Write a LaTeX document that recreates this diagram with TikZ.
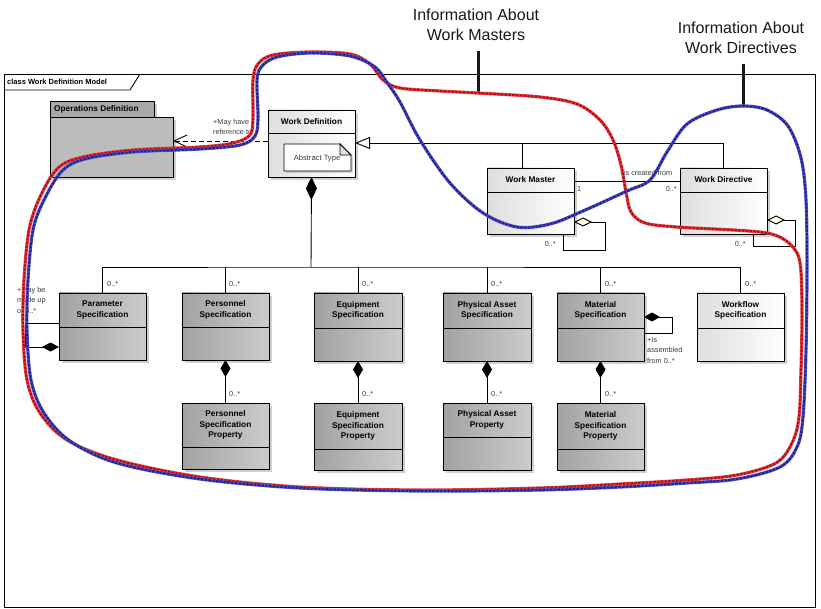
\documentclass[tikz,border=0pt]{standalone}
\usepackage{fontspec}
\setmainfont{Liberation Sans}
\usetikzlibrary{arrows.meta,shadows,calc}
\definecolor{gA}{RGB}{162,162,162}
\definecolor{gB}{RGB}{204,204,204}
\definecolor{wA}{RGB}{222,222,222}
\definecolor{tabgray}{RGB}{168,168,168}
\definecolor{txtgray}{RGB}{60,60,60}
\definecolor{cream}{RGB}{255,250,235}
\definecolor{redA}{RGB}{228,70,70}
\definecolor{redB}{RGB}{185,10,20}
\definecolor{bluA}{RGB}{80,80,200}
\definecolor{bluB}{RGB}{35,35,140}
\definecolor{titlecol}{RGB}{25,25,25}
\tikzset{
  umlbase/.style={draw=black, line width=0.9pt, inner sep=0pt, outer sep=0pt, anchor=north west},
  graycls/.style={umlbase, left color=gA, right color=gB,
     drop shadow={shadow xshift=3pt, shadow yshift=-3pt, fill=black!30, opacity=0.6}},
  whitecls/.style={umlbase, left color=wA, right color=white,
     drop shadow={shadow xshift=3pt, shadow yshift=-3pt, fill=black!30, opacity=0.6}},
  ttl/.style={font=\fontsize{8.3}{10.6}\selectfont\bfseries, align=center, text=black, inner sep=0pt},
  lbl/.style={font=\fontsize{7.3}{10.5}\selectfont, text=txtgray, inner sep=0pt, align=left},
  conn/.style={line width=0.9pt, draw=black},
  redcurve/.style={line width=3.2pt, redA, line join=round,
     postaction={draw, redB, line width=2pt, dash pattern=on 2.6pt off 1.2pt}},
  bluecurve/.style={line width=3.2pt, bluA, line join=round,
     postaction={draw, bluB, line width=2pt, dash pattern=on 2.6pt off 1.2pt}},
}
\newcommand\clsbox[8]{%
  \node[#7, minimum width={(#4-#2)*1pt}, minimum height={(#5-#3)*1pt}] (#1) at (#2,#3) {};
  \draw[line width=0.9pt] (#1.west |- 0,#6) -- (#1.east |- 0,#6);
  \node[ttl] (#1-t) at ({(#2+#4)/2},{(#3+#6)/2}) {#8};
}
\begin{document}
\begin{tikzpicture}[x=1pt,y=-1pt]
\useasboundingbox[fill=white] (0,0) rectangle (821,609);

% frame
\node[draw=black, line width=0.9pt, inner sep=0pt, outer sep=0pt, anchor=north west,
      minimum width=811pt, minimum height=533pt] (frame) at (4,74) {};
\draw[line width=0.9pt] (4,90) -- (130,90) -- (140,74);
\node[font=\fontsize{7.5}{9}\selectfont\bfseries, anchor=west, inner sep=0pt] (frame-t) at (7,82) {class Work Definition Model};

% Operations Definition package
\node[umlbase, fill=tabgray, minimum width=104pt, minimum height=16pt,
      drop shadow={shadow xshift=3pt, shadow yshift=-3pt, fill=black!30, opacity=0.6}] (opsTab) at (50,101) {};
\node[umlbase, fill=gB!92!black, minimum width=123pt, minimum height=60pt,
      drop shadow={shadow xshift=3pt, shadow yshift=-3pt, fill=black!30, opacity=0.6}] (ops) at (50,117) {};
\node[ttl, anchor=west] (ops-t) at (54,109) {Operations Definition};

% Work Definition
\clsbox{wdef}{268}{110}{355}{177}{133}{whitecls}{Work Definition}
\draw[line width=0.8pt, fill=white, drop shadow={shadow xshift=2pt, shadow yshift=-2pt, fill=black!30, opacity=0.5}]
   (284,144) -- (340,144) -- (351,155) -- (351,171) -- (284,171) -- cycle;
\draw[line width=0.8pt, fill=black!12] (340,144) -- (340,155) -- (351,155) -- cycle;
\node[lbl, font=\fontsize{7.6}{9}\selectfont] (abs) at (317,159) {Abstract Type};

% Work Master / Directive
\clsbox{wmas}{487}{168}{574}{234}{192}{whitecls}{Work Master}
\clsbox{wdir}{680}{168}{767}{234}{192}{whitecls}{Work Directive}

% Specifications
\clsbox{par}{59}{293}{146}{360}{327}{graycls}{Parameter\\Specification}
\clsbox{pers}{182}{293}{269}{360}{327}{graycls}{Personnel\\Specification}
\clsbox{equ}{314}{293}{402}{361}{328}{graycls}{Equipment\\Specification}
\clsbox{phy}{443}{293}{531}{361}{328}{graycls}{Physical Asset\\Specification}
\clsbox{mat}{557}{293}{644}{361}{328}{graycls}{Material\\Specification}
\clsbox{wf}{697}{293}{784}{361}{328}{whitecls}{Workflow\\Specification}

% Properties
\clsbox{persP}{182}{403}{269}{469}{447}{graycls}{Personnel\\Specification\\Property}
\clsbox{equP}{314}{403}{402}{470}{449}{graycls}{Equipment\\Specification\\Property}
\clsbox{phyP}{443}{403}{531}{470}{437}{graycls}{Physical Asset\\Property}
\clsbox{matP}{557}{403}{644}{470}{449}{graycls}{Material\\Specification\\Property}

% dependency
\draw[conn, dash pattern=on 5pt off 3pt, -{Straight Barb[length=13pt,width=12pt]}]
   (wdef.west |- 0,141) -- (ops.east |- 0,141);
\node[lbl, anchor=west] (dep-l) at (213,127) {+May have\\reference to};

% generalization
\draw[conn, -{Triangle[length=15pt,width=12pt,fill=cream]}] (wdir.north) |- (wdef.east |- 0,143);
\draw[conn] (wmas.north -| 522,0) -- (522,143);

% association
\draw[conn] (wmas.east |- 0,181) -- (wdir.west |- 0,181);
\node[lbl, anchor=south] (as-l) at (646,176) {+is created from};
\node[lbl, anchor=west] (as-1) at (577,189) {1};
\node[lbl, anchor=east] (as-m) at (677,189) {0..*};

% self aggregations
\draw[conn, {Diamond[length=18pt,width=9pt,fill=cream]}-] (wmas.east |- 0,222) -- (605,222) -- (605,250) -- (563,250) -- (wmas.south -| 563,0);
\node[lbl, anchor=east] (wm-m) at (556,244) {0..*};
\draw[conn, {Diamond[length=18pt,width=9pt,fill=cream]}-] (wdir.east |- 0,220) -- (795,220) -- (795,246) -- (753,246) -- (wdir.south -| 753,0);
\node[lbl, anchor=east] (wd-m) at (746,244) {0..*};

% composition bus
\coordinate (bus) at (311,267);
\draw[conn, {Diamond[length=23pt,width=11pt]}-] (wdef.south) -- (bus);
\draw[conn] (par.north) |- (bus) -| (wf.north);
\foreach \n in {pers,equ,phy,mat} { \draw[conn] (\n.north) -- (\n.north |- bus); }
\foreach \n/\x in {par/103,pers/225,equ/358,phy/487,mat/601,wf/741} {
  \node[lbl, anchor=west] (\n-b) at (\x+4,284) {0..*};
}

% property compositions
\foreach \a/\b/\x in {pers/persP/225,equ/equP/358,phy/phyP/487,mat/matP/601} {
  \draw[conn, {Diamond[length=17pt,width=10pt]}-] (\a.south) -- (\b.north);
  \node[lbl, anchor=west] (\b-m) at (\x+4,394) {0..*};
}

% parameter self composition
\draw[conn, {Diamond[length=17pt,width=9pt]}-] (par.west |- 0,347) -- (25,347) -- (25,323) -- (par.west |- 0,323);
\node[lbl, anchor=north west] (par-l) at (17,287) {+May be\\made up\\of 0..*};

% material self composition
\draw[conn, {Diamond[length=16pt,width=9pt]}-] (mat.east |- 0,317) -- (672,317) -- (672,333) -- (mat.east |- 0,333);
\node[lbl, anchor=north west] (mat-l) at (647,337) {+Is\\assembled\\from 0..*};

% annotation titles
\node[font=\fontsize{16}{20}\selectfont, align=center, text=titlecol, inner sep=0pt] (tm) at (476,25) {Information About\\Work Masters};
\node[font=\fontsize{16}{20}\selectfont, align=center, text=titlecol, inner sep=0pt] (td) at (741,38) {Information About\\Work Directives};
\coordinate (tmA) at (478,51); \coordinate (tmB) at (478,93);
\coordinate (tdA) at (743,64); \coordinate (tdB) at (743,106);
\draw[line width=3pt, titlecol] (tmA) -- (tmB);
\draw[line width=3pt, titlecol] (tdA) -- (tdB);

% red loop (Work Masters)
\draw[redcurve] plot[smooth cycle, tension=0.55] coordinates {
 (400,88) (440,91) (477,93) (540,97) (577,104) (600,120) (613,140) (621,165) (626,192) (631,212)
 (645,223) (677,227) (733,230) (767,233) (785,240) (797,253) (801,272) (802,317) (801,370)
 (799,417) (792,443) (776,463) (737,475) (687,480) (620,484) (540,488) (420,490) (300,487)
 (200,477) (117,460) (67,440) (40,413) (27,380) (23,330) (24,280) (29,230) (40,197) (58,168)
 (83,157) (133,150) (200,147) (233,143) (250,135) (253,118) (253,80) (258,64) (273,55)
 (310,52) (350,54) (370,64) (383,80)};

% blue loop (Work Directives)
\draw[bluecurve] plot[smooth cycle, tension=0.55] coordinates {
 (743,106) (767,110) (788,126) (801,158) (806,200) (807,267) (806,350) (803,417) (797,447)
 (780,467) (737,479) (687,483) (620,487) (540,490) (420,491) (300,488) (200,479) (117,463)
 (70,441) (44,413) (31,380) (27,330) (28,280) (33,230) (44,200) (62,171) (85,159) (133,152)
 (200,149) (240,145) (255,136) (258,118) (257,80) (262,66) (277,57) (310,53) (350,56)
 (375,67) (388,84) (400,102) (420,140) (450,183) (483,213) (517,227) (550,224) (583,211)
 (627,191) (650,180) (667,152) (687,124) (717,110)};
\end{tikzpicture}
\end{document}
